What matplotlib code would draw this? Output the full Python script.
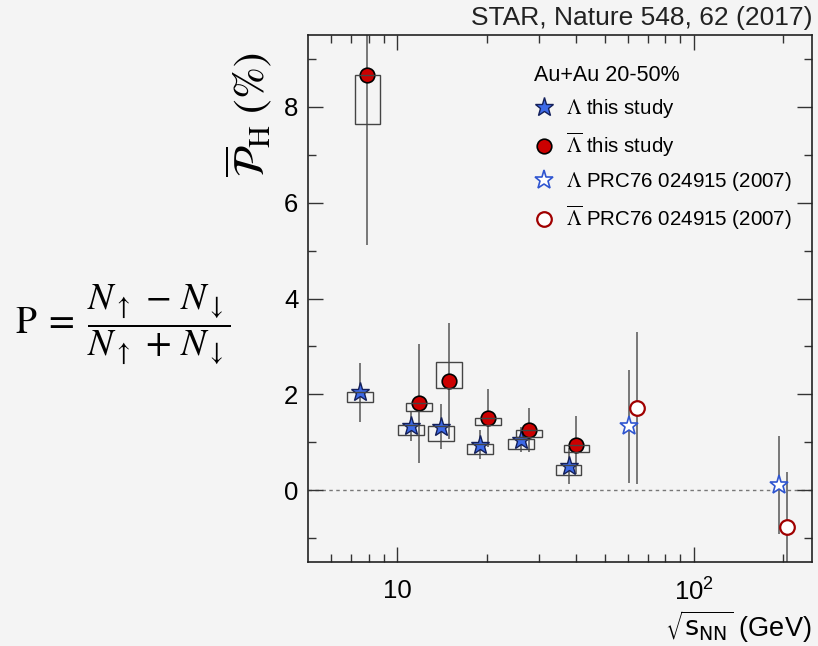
import numpy as np
import matplotlib
matplotlib.use('Agg')
import matplotlib.pyplot as plt
from matplotlib.patches import Rectangle
from matplotlib.lines import Line2D
from matplotlib.ticker import FixedLocator, NullFormatter

plt.rcParams['font.family'] = ['Liberation Sans', 'DejaVu Sans']
plt.rcParams['mathtext.fontset'] = 'stix'

# collision energies (GeV)
energies = [7.7, 11.5, 14.5, 19.6, 27.0, 39.0]
energies_prc = [62.4, 200.0]

# Lambda, this study (%)
lam = [2.04, 1.34, 1.32, 0.95, 1.05, 0.51]
lam_stat = [0.62, 0.31, 0.47, 0.30, 0.26, 0.38]
lam_sys_lo = [1.84, 1.15, 1.03, 0.75, 0.85, 0.31]
lam_sys_hi = [2.05, 1.35, 1.33, 0.96, 1.06, 0.52]

# anti-Lambda, this study (%)
alam = [8.66, 1.81, 2.28, 1.51, 1.25, 0.94]
alam_stat = [3.55, 1.25, 1.21, 0.61, 0.46, 0.61]
alam_sys_lo = [7.65, 1.65, 2.13, 1.36, 1.10, 0.80]
alam_sys_hi = [8.67, 1.81, 2.68, 1.51, 1.25, 0.94]

# PRC76 024915 (2007)
lam_prc = [1.33, 0.11]
lam_prc_stat = [1.18, 1.03]
alam_prc = [1.72, -0.76]
alam_prc_stat = [1.59, 1.14]

bg = '#f4f4f4'
blue = '#3d6ae8'
navy = '#14205a'
red = '#cc0000'

# small horizontal shifts so the two species don't overlap
lam_shift = 0.97
alam_shift = 1.03
box_half = 1.105  # half width of the systematic boxes, as a factor in log-x

fig = plt.figure(figsize=(8.18, 6.46), dpi=100, facecolor=bg)
ax = fig.add_axes([0.3765, 0.130, 0.616, 0.8158], facecolor=bg)
ax.set_xscale('log')


def draw_set(x, y, err, marker, ms, mfc, mec, mew=1.0, lo=None, hi=None):
    x = np.asarray(x)
    ax.errorbar(x, y, yerr=err, fmt='none', ecolor='#555555',
                elinewidth=1.1, capsize=0, zorder=2)
    ax.plot(x, y, ls='none', marker=marker, ms=ms, mfc=mfc, mec=mec,
            mew=mew, zorder=3)
    if lo is not None:
        for xi, l, h in zip(x, lo, hi):
            ax.add_patch(Rectangle((xi / box_half, l), xi * box_half - xi / box_half,
                                   h - l, fill=False, ec='#444444', lw=1.0, zorder=4))


e = np.array(energies)
ep = np.array(energies_prc)
draw_set(e * lam_shift, lam, lam_stat, '*', 14, blue, navy, lo=lam_sys_lo, hi=lam_sys_hi)
draw_set(e * alam_shift, alam, alam_stat, 'o', 10.5, red, 'black', 1.2, alam_sys_lo, alam_sys_hi)
draw_set(ep * lam_shift, lam_prc, lam_prc_stat, '*', 14, 'white', '#2f55d0', 1.2)
draw_set(ep * alam_shift, alam_prc, alam_prc_stat, 'o', 10.5, 'white', '#a00000', 1.6)

ax.axhline(0, color='#777777', ls=(0, (2.5, 2.5)), lw=1.0, zorder=1)

ax.set_xlim(5, 250)
ax.set_ylim(-1.5, 9.5)
ax.set_xticks([10, 100], labels=['10', r'$\mathdefault{10^{2}}$'])
ax.xaxis.set_minor_locator(FixedLocator([6, 7, 8, 9, 20, 30, 40, 50, 60, 70, 80, 90, 200]))
ax.xaxis.set_minor_formatter(NullFormatter())
ax.set_yticks([0, 2, 4, 6, 8])
ax.yaxis.set_minor_locator(FixedLocator([-1, 1, 3, 5, 7, 9]))

ax.tick_params(which='both', direction='in', top=True, right=True,
               color='#333333', width=1.0, labelsize=18.5)
ax.tick_params(which='major', length=11)
ax.tick_params(which='minor', length=5.5)
ax.tick_params(axis='x', pad=12)
ax.tick_params(axis='y', pad=7)
for sp in ax.spines.values():
    sp.set_linewidth(1.2)
    sp.set_color('#222222')

ax.set_ylabel(r'$\overline{\mathcal{P}}_{\mathrm{H}}$ (%)', fontsize=31,
              math_fontfamily='stix', family='STIXGeneral')
ax.yaxis.set_label_coords(-0.066, 0.848)
ax.set_xlabel(r'$\sqrt{\mathrm{s}_{\mathrm{NN}}}$ (GeV)', fontsize=19.5,
              math_fontfamily='dejavusans', ha='right')
ax.xaxis.set_label_coords(1.0, -0.088)

handles = [
    Line2D([], [], ls='none', marker='*', ms=14, mfc=blue, mec=navy, mew=1.0),
    Line2D([], [], ls='none', marker='o', ms=10.5, mfc=red, mec='black', mew=1.2),
    Line2D([], [], ls='none', marker='*', ms=14, mfc='white', mec='#2f55d0', mew=1.2),
    Line2D([], [], ls='none', marker='o', ms=10.5, mfc='white', mec='#a00000', mew=1.6),
]
labels = [r'$\Lambda$ this study', r'$\overline{\Lambda}$ this study',
          r'$\Lambda$ PRC76 024915 (2007)', r'$\overline{\Lambda}$ PRC76 024915 (2007)']
leg = ax.legend(handles, labels, title='Au+Au 20-50%', loc='upper left',
                bbox_to_anchor=(0.428, 0.962), frameon=False, fontsize=14.8,
                title_fontsize=15.5, handlelength=1.0, handletextpad=0.55,
                labelspacing=0.53, borderpad=0, alignment='left')

fig.text(0.993, 0.972, 'STAR, Nature 548, 62 (2017)', ha='right', va='center',
         fontsize=19, color='#222222')

fig.text(0.018, 0.497,
         r'$\mathrm{P} \;=\; \dfrac{N_{\uparrow} \,-\, N_{\downarrow}}{N_{\uparrow} \,+\, N_{\downarrow}}$',
         ha='left', va='center', fontsize=27, math_fontfamily='stix')

fig.savefig('out.png', dpi=100, facecolor=bg)
